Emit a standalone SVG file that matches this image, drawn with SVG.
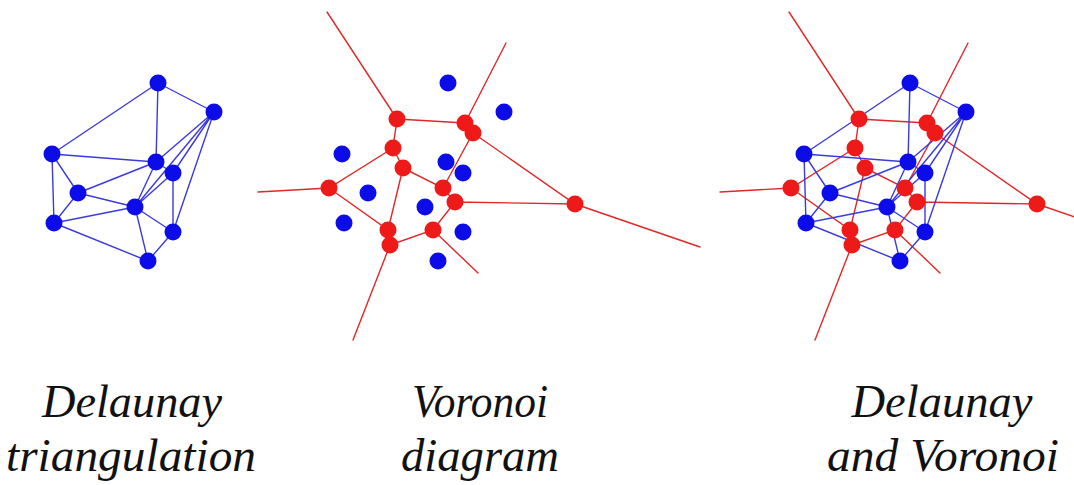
<svg xmlns="http://www.w3.org/2000/svg" width="1074" height="485" viewBox="0 0 1074 485">
<style>
.be{stroke:#3a3ae0;stroke-width:1.4;fill:none;stroke-linecap:round}
.re{stroke:#e02828;stroke-width:1.4;fill:none;stroke-linecap:round}
.b{fill:#0c0ce8}
.r{fill:#ee1a1a}
.lbl{font-family:"Liberation Serif","DejaVu Serif",serif;font-style:italic;font-size:46px;fill:#111;text-anchor:middle}
</style>
<defs>
<circle id="bd" r="8.5" class="b"/>
<circle id="rd" r="8.5" class="r"/>
</defs>
<rect width="1074" height="485" fill="#fff"/>
<g id="connectors">
  <g id="red-p2" transform="translate(290,0)">
    <path class="re" d="M107,119 L37,12 M107,119 L175,123 L183,133 M175,123 L216,43 M183,133 L285,204 L410,247 M165,202 L285,204 M183,133 L153,188 M107,119 L103,148 L113,168 M103,148 L39,188 L-32,192 M113,168 L153,188 L165,202 M113,168 L98,230 M39,188 L98,230 L100,245 M100,245 L143,230 L165,202 M143,230 L188,273 M100,245 L63,340"/>
  </g>
  <g id="red-p3" transform="translate(752,0)">
    <path class="re" d="M107,119 L37,12 M107,119 L175,123 L183,133 M175,123 L216,43 M183,133 L285,204 L410,247 M165,202 L285,204 M183,133 L153,188 M107,119 L103,148 L113,168 M103,148 L39,188 L-32,192 M113,168 L153,188 L165,202 M113,168 L98,230 M39,188 L98,230 L100,245 M100,245 L143,230 L165,202 M143,230 L188,273 M100,245 L63,340"/>
  </g>
  <g id="blue-p1">
    <path class="be" d="M158,83 L214,112 M158,83 L52,154 M158,83 L156,162 M214,112 L156,162 M214,112 L173,173 M214,112 L135,207 M214,112 L173,232 M52,154 L156,162 M52,154 L78,193 M52,154 L54,223 M156,162 L78,193 M156,162 L173,173 M156,162 L135,207 M173,173 L135,207 M173,173 L173,232 M78,193 L135,207 M78,193 L54,223 M54,223 L135,207 M54,223 L148,261 M135,207 L173,232 M135,207 L148,261 M173,232 L148,261"/>
  </g>
  <g id="blue-p3" transform="translate(752,0)">
    <path class="be" d="M158,83 L214,112 M158,83 L52,154 M158,83 L156,162 M214,112 L156,162 M214,112 L173,173 M214,112 L135,207 M214,112 L173,232 M52,154 L156,162 M52,154 L78,193 M52,154 L54,223 M156,162 L78,193 M156,162 L173,173 M156,162 L135,207 M173,173 L135,207 M173,173 L173,232 M78,193 L135,207 M78,193 L54,223 M54,223 L135,207 M54,223 L148,261 M135,207 L173,232 M135,207 L148,261 M173,232 L148,261"/>
  </g>
</g>
<g id="panel1-sites">
  <g id="p1-a"><use href="#bd" x="158" y="83"/></g>
  <g id="p1-b"><use href="#bd" x="214" y="112"/></g>
  <g id="p1-c"><use href="#bd" x="52" y="154"/></g>
  <g id="p1-d"><use href="#bd" x="156" y="162"/></g>
  <g id="p1-e"><use href="#bd" x="173" y="173"/></g>
  <g id="p1-f"><use href="#bd" x="78" y="193"/></g>
  <g id="p1-g"><use href="#bd" x="135" y="207"/></g>
  <g id="p1-h"><use href="#bd" x="54" y="223"/></g>
  <g id="p1-i"><use href="#bd" x="173" y="232"/></g>
  <g id="p1-j"><use href="#bd" x="148" y="261"/></g>
</g>
<g id="panel2-vertices" transform="translate(290,0)">
  <g id="p2-v1"><use href="#rd" x="107" y="119"/></g>
  <g id="p2-v2"><use href="#rd" x="175" y="123"/></g>
  <g id="p2-v3"><use href="#rd" x="183" y="133"/></g>
  <g id="p2-v4"><use href="#rd" x="103" y="148"/></g>
  <g id="p2-v5"><use href="#rd" x="113" y="168"/></g>
  <g id="p2-v6"><use href="#rd" x="39" y="188"/></g>
  <g id="p2-v7"><use href="#rd" x="153" y="188"/></g>
  <g id="p2-v8"><use href="#rd" x="165" y="202"/></g>
  <g id="p2-v9"><use href="#rd" x="285" y="204"/></g>
  <g id="p2-v10"><use href="#rd" x="98" y="230"/></g>
  <g id="p2-v11"><use href="#rd" x="100" y="245"/></g>
  <g id="p2-v12"><use href="#rd" x="143" y="230"/></g>
</g>
<g id="panel2-sites" transform="translate(290,0)">
  <g id="p2-a"><use href="#bd" x="158" y="83"/></g>
  <g id="p2-b"><use href="#bd" x="214" y="112"/></g>
  <g id="p2-c"><use href="#bd" x="52" y="154"/></g>
  <g id="p2-d"><use href="#bd" x="156" y="162"/></g>
  <g id="p2-e"><use href="#bd" x="173" y="173"/></g>
  <g id="p2-f"><use href="#bd" x="78" y="193"/></g>
  <g id="p2-g"><use href="#bd" x="135" y="207"/></g>
  <g id="p2-h"><use href="#bd" x="54" y="223"/></g>
  <g id="p2-i"><use href="#bd" x="173" y="232"/></g>
  <g id="p2-j"><use href="#bd" x="148" y="261"/></g>
</g>
<g id="panel3-vertices" transform="translate(752,0)">
  <g id="p3-v1"><use href="#rd" x="107" y="119"/></g>
  <g id="p3-v2"><use href="#rd" x="175" y="123"/></g>
  <g id="p3-v3"><use href="#rd" x="183" y="133"/></g>
  <g id="p3-v4"><use href="#rd" x="103" y="148"/></g>
  <g id="p3-v5"><use href="#rd" x="113" y="168"/></g>
  <g id="p3-v6"><use href="#rd" x="39" y="188"/></g>
  <g id="p3-v7"><use href="#rd" x="153" y="188"/></g>
  <g id="p3-v8"><use href="#rd" x="165" y="202"/></g>
  <g id="p3-v9"><use href="#rd" x="285" y="204"/></g>
  <g id="p3-v10"><use href="#rd" x="98" y="230"/></g>
  <g id="p3-v11"><use href="#rd" x="100" y="245"/></g>
  <g id="p3-v12"><use href="#rd" x="143" y="230"/></g>
</g>
<g id="panel3-sites" transform="translate(752,0)">
  <g id="p3-a"><use href="#bd" x="158" y="83"/></g>
  <g id="p3-b"><use href="#bd" x="214" y="112"/></g>
  <g id="p3-c"><use href="#bd" x="52" y="154"/></g>
  <g id="p3-d"><use href="#bd" x="156" y="162"/></g>
  <g id="p3-e"><use href="#bd" x="173" y="173"/></g>
  <g id="p3-f"><use href="#bd" x="78" y="193"/></g>
  <g id="p3-g"><use href="#bd" x="135" y="207"/></g>
  <g id="p3-h"><use href="#bd" x="54" y="223"/></g>
  <g id="p3-i"><use href="#bd" x="173" y="232"/></g>
  <g id="p3-j"><use href="#bd" x="148" y="261"/></g>
</g>
<g id="labels">
  <text class="lbl" x="132" y="417" textLength="180" lengthAdjust="spacingAndGlyphs">Delaunay</text>
  <text class="lbl" x="131" y="471" textLength="250" lengthAdjust="spacingAndGlyphs">triangulation</text>
  <text class="lbl" x="480" y="417" textLength="136" lengthAdjust="spacingAndGlyphs">Voronoi</text>
  <text class="lbl" x="480" y="471" textLength="158" lengthAdjust="spacingAndGlyphs">diagram</text>
  <text class="lbl" x="942" y="417" textLength="181" lengthAdjust="spacingAndGlyphs">Delaunay</text>
  <text class="lbl" x="943" y="471" textLength="232" lengthAdjust="spacingAndGlyphs">and Voronoi</text>
</g>
</svg>
